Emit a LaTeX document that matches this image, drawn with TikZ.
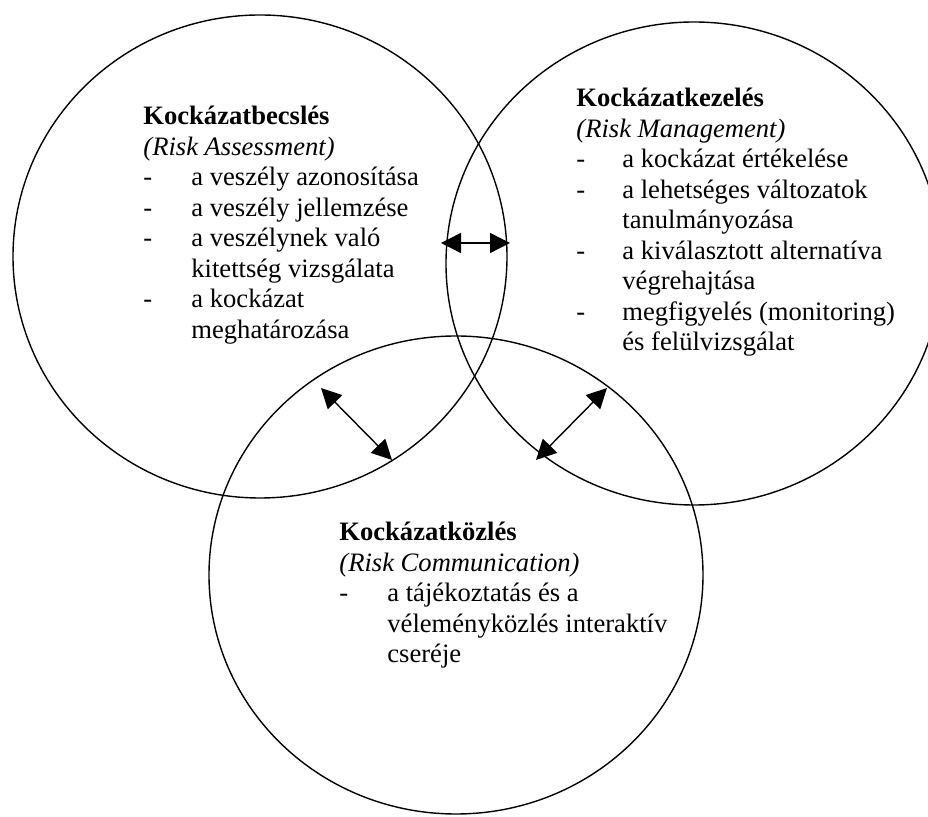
\documentclass[tikz,border=0pt]{standalone}
\usepackage{fontspec}
\setmainfont{Liberation Serif}
\usetikzlibrary{arrows.meta,shapes.geometric}
\newcommand{\hd}[1]{\multicolumn{2}{@{}l@{}}{#1}}
\begin{document}
\begin{tikzpicture}[x=0.5pt,y=-0.5pt,
  ring/.style={draw, ellipse, line width=0.7pt, inner sep=0pt},
  both/.style={{Triangle[length=10pt,width=10pt]}-{Triangle[length=10pt,width=10pt]}, line width=0.7pt},
  block/.style={anchor=base west, inner sep=0pt, font=\fontsize{13.3}{15.25}\selectfont}]
\useasboundingbox (0,0) rectangle (928,817);
\clip (0,0) rectangle (928,817);
\fill[white] (0,0) rectangle (928,817);
\node[ring, minimum width=247pt, minimum height=241.5pt] (assess) at (260,256.5) {};
\node[ring, minimum width=248pt, minimum height=241.5pt] (manage) at (694,263.5) {};
\node[ring, minimum width=247pt, minimum height=239pt] (comm) at (456,575) {};

\node[block] (assesstext) at (143,125) {\begin{tabular}[t]{@{}p{24pt}@{}l@{}}
\hd{\textbf{Kockázatbecslés}}\\
\hd{\textit{(Risk Assessment)}}\\
- & a veszély azonosítása\\
- & a veszély jellemzése\\
- & a veszélynek való\\
  & kitettség vizsgálata\\
- & a kockázat\\
  & meghatározása
\end{tabular}};

\node[block] (managetext) at (576,107) {\begin{tabular}[t]{@{}p{23pt}@{}l@{}}
\hd{\textbf{Kockázatkezelés}}\\
\hd{\textit{(Risk Management)}}\\
- & a kockázat értékelése\\
- & a lehetséges változatok\\
  & tanulmányozása\\
- & a kiválasztott alternatíva\\
  & végrehajtása\\
- & megfigyelés (monitoring)\\
  & és felülvizsgálat
\end{tabular}};

\node[block] (commtext) at (339,541) {\begin{tabular}[t]{@{}p{24pt}@{}l@{}}
\hd{\textbf{Kockázatközlés}}\\
\hd{\textit{(Risk Communication)}}\\
- & a tájékoztatás és a\\
  & véleményközlés interaktív\\
  & cseréje
\end{tabular}};

\coordinate (h1) at (441,243);
\coordinate (h2) at (510,243);
\coordinate (l1) at (321,388);
\coordinate (l2) at (392,460);
\coordinate (r1) at (607,388);
\coordinate (r2) at (536,460);
\draw[both] (h1) -- (h2);
\draw[both] (l1) -- (l2);
\draw[both] (r1) -- (r2);
\end{tikzpicture}
\end{document}
